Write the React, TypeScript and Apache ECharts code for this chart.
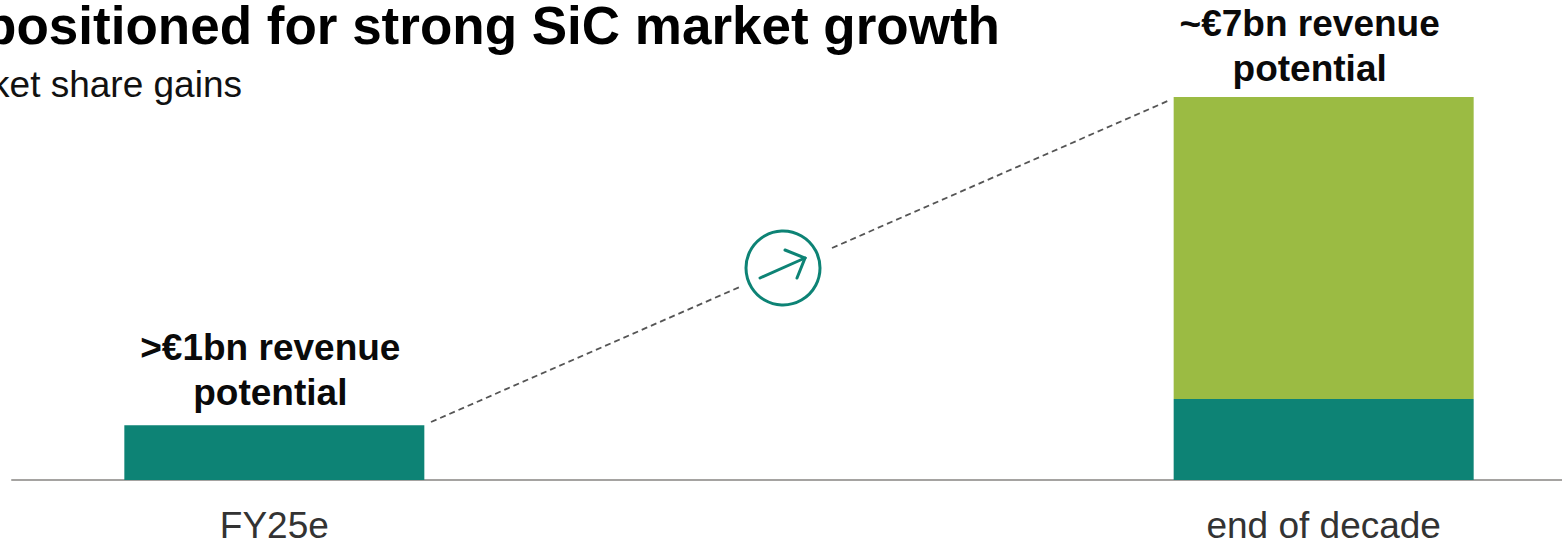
import React, { useEffect, useRef } from "react";
import * as echarts from "echarts";

const categories = ["FY25e", "", "end of decade"];
const baseValues = [1, null, 1.48];
const growthValues = [null, null, 5.52];
const startLabel = ">€1bn revenue\npotential";
const endLabel = "~€7bn revenue\npotential";
const headline = "positioned for strong SiC market growth";
const subline = "market share gains";

const TEAL = "#0d8375";
const GREEN = "#9bbb43";
const FONT = '"Liberation Sans", Arial, sans-serif';

const barLabel = (text: string, shiftX: number, shiftY: number) => ({
  show: true,
  position: "top",
  distance: 6,
  offset: [shiftX, shiftY],
  formatter: text,
  fontFamily: FONT,
  fontSize: 37,
  fontWeight: "bold",
  lineHeight: 45,
  color: "#0a0a0a",
});

export default function App() {
  const ref = useRef<HTMLDivElement>(null);

  useEffect(() => {
    const chart = echarts.init(ref.current!, null, { renderer: "svg" });
    const connector = { stroke: "#555555", lineWidth: 1.8, lineDash: [6, 4] };
    const ring = { stroke: TEAL, lineWidth: 3, fill: "none", lineCap: "round" as const };

    chart.setOption({
      animation: false,
      backgroundColor: "#ffffff",
      grid: { left: 12, top: 97, width: 1574, height: 383, containLabel: false, outerBoundsMode: "none" },
      xAxis: {
        type: "category",
        data: categories,
        axisTick: { show: false },
        axisLine: { lineStyle: { color: "#a5a3a1", width: 2 } },
        axisLabel: { color: "#333333", fontFamily: FONT, fontSize: 37, margin: 27 },
      },
      yAxis: { type: "value", min: 0, max: 7, show: false, splitLine: { show: false } },
      series: [
        {
          type: "bar",
          stack: "revenue",
          barWidth: 300,
          itemStyle: { color: TEAL },
          data: baseValues.map((value, i) =>
            i === 0 ? { value, label: barLabel(startLabel, -4, -4) } : value
          ),
        },
        {
          type: "bar",
          stack: "revenue",
          barWidth: 300,
          itemStyle: { color: GREEN },
          data: growthValues.map((value, i) =>
            i === 2 ? { value, label: barLabel(endLabel, -14, 0) } : value
          ),
        },
      ],
      graphic: [
        { type: "text", x: 1000, y: -1, style: { text: headline, align: "right", fontFamily: FONT, fontSize: 53, fontWeight: "bold", fill: "#000000" } },
        { type: "text", x: 242, y: 66, style: { text: subline, align: "right", fontFamily: FONT, fontSize: 37, fill: "#111111" } },
        { type: "line", shape: { x1: 431, y1: 422, x2: 742, y2: 286 }, style: connector },
        { type: "line", shape: { x1: 832, y1: 248, x2: 1170, y2: 100 }, style: connector },
        { type: "circle", shape: { cx: 783, cy: 268, r: 37 }, style: ring },
        { type: "line", shape: { x1: 760, y1: 278, x2: 805, y2: 258 }, style: ring },
        { type: "polyline", shape: { points: [[785, 250], [805, 258], [797, 278]] }, style: ring },
      ],
    });
    return () => chart.dispose();
  }, []);

  return <div ref={ref} style={{ position: "absolute", left: 0, top: 0, width: 1562, height: 543 }} />;
}
